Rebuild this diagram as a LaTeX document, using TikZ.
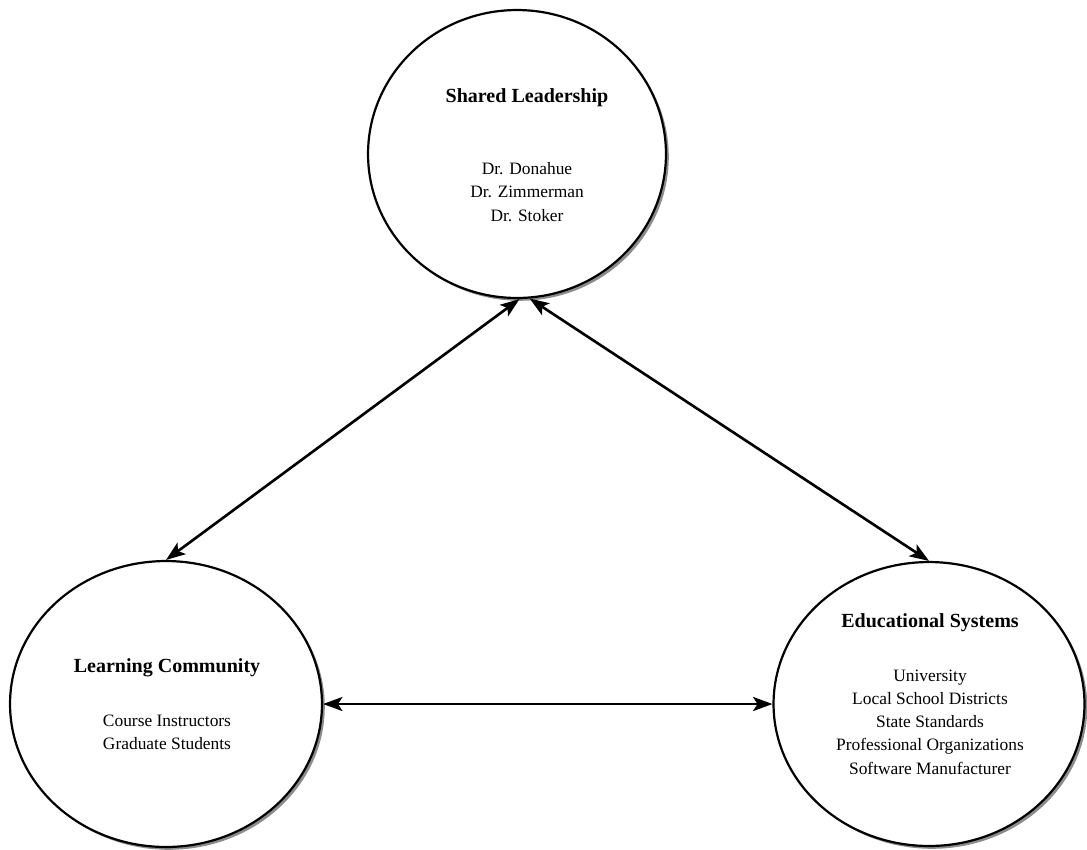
\documentclass[tikz,border=0pt]{standalone}
\usepackage{fontspec}
\setmainfont{Liberation Serif}
\usetikzlibrary{shapes.geometric,arrows.meta,shadows}

\begin{document}
\begin{tikzpicture}[x=0.02cm,y=-0.02cm,>={Stealth[length=11pt,width=8pt,inset=2.5pt]},
        circ/.style={ellipse,draw,line width=1.25pt,fill=white,inner sep=0pt,
            drop shadow={shadow xshift=1.6pt,shadow yshift=-1.6pt,fill=black!45,opacity=1}},
        ttl/.style={font=\fontsize{11.4}{13}\selectfont\bfseries},
        mem/.style={font=\fontsize{9.9}{13.2}\selectfont,align=center}]
        \useasboundingbox (0,0) rectangle (1087,849);
        \node[circ,minimum width=5.96cm,minimum height=5.76cm] (sl) at (517,154) {};
        \node[circ,minimum width=6.24cm,minimum height=5.72cm] (lc) at (166,704) {};
        \node[circ,minimum width=6.22cm,minimum height=5.68cm] (es) at (929,704) {};
        \node[ttl] (sl_t) at (527,98) {Shared Leadership};
        \node[mem] (sl_m) at (527,192) {Dr. Donahue\\Dr. Zimmerman\\Dr. Stoker};
        \node[ttl] (lc_t) at (167,668) {Learning Community};
        \node[mem] (lc_m) at (167,732) {Course Instructors\\Graduate Students};
        \node[ttl] (es_t) at (930,623) {Educational Systems};
        \node[mem] (es_m) at (930,722) {University\\Local School Districts\\State Standards\\Professional Organizations\\Software Manufacturer};
        \path[<->,line width=1.5pt]
        (sl.271) edge (lc.north)
        (sl.275) edge (es.north)
        (lc)     edge (es);
\end{tikzpicture}
\end{document}
